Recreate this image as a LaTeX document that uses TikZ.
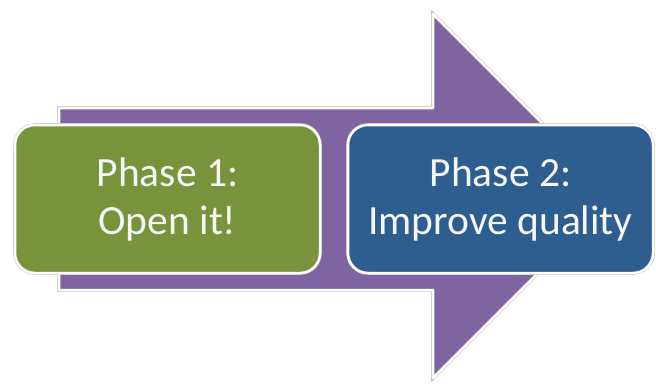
\documentclass[tikz,border=0pt]{standalone}
\usepackage{fontspec}
\setmainfont{Carlito}
\usetikzlibrary{positioning}

\begin{document}
\begin{tikzpicture}[x=1pt,y=-1pt]
    % Define colors
    \definecolor{arrowpurple}{RGB}{128,100,162}
    \definecolor{phasegreen}{RGB}{119,147,60}
    \definecolor{phaseblue}{RGB}{46,94,143}
    \definecolor{textwhite}{RGB}{246,246,246}
    \definecolor{rimgray}{RGB}{200,200,200}

    \tikzset{
      rim/.style={draw=white, line width=2.5pt, line join=round,
        preaction={draw=rimgray, line width=3.6pt}},
      phasebox/.style={rim, rectangle, rounded corners=20pt,
        minimum width=305pt, minimum height=148pt, inner sep=0pt,
        align=center, text=textwhite, font=\fontsize{41.5}{48}\selectfont}
    }

    \useasboundingbox (0,0) rectangle (656,383);

    % Draw big arrow
    \draw[rim, fill=arrowpurple] (59,108) -- (433,108) -- (433,14) -- (615,196)
      -- (433,378) -- (433,290) -- (59,290) -- cycle;

    % Draw nodes
    \node[phasebox, fill=phasegreen] (phaseone) at (167.5,199) {Phase 1:\\Open it!};
    \node[phasebox, fill=phaseblue] (phasetwo) at (500.5,199) {Phase 2:\\Improve quality};
\end{tikzpicture}
\end{document}
